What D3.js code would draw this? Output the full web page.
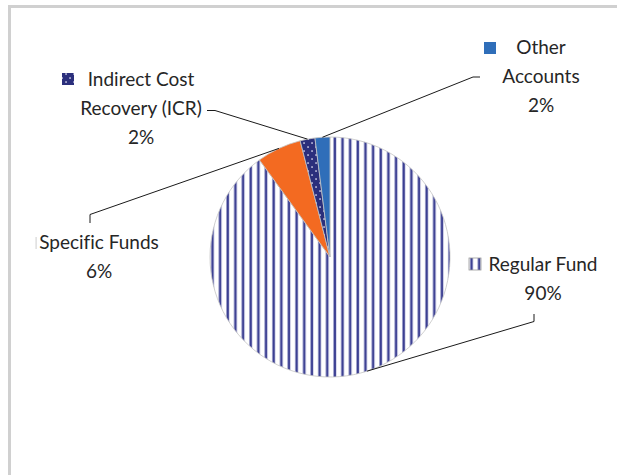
<!DOCTYPE html>
<html>
<head>
<meta charset="utf-8">
<script src="https://cdn.jsdelivr.net/npm/d3@7"></script>
<style>
  html, body { margin: 0; padding: 0; background: #ffffff; }
  svg { display: block; }
  text { font-family: Lato, "Open Sans", sans-serif; fill: #262626; font-variant-ligatures: none; }
</style>
</head>
<body>
<svg id="chart" width="617" height="475"></svg>
<script>
// Funding sources, share of total
const categories = ["Regular Fund", "Specific Funds", "Indirect Cost Recovery (ICR)", "Other Accounts"];
const values = [90, 6, 2, 2];
const labelLines = [["Regular Fund"], ["Specific Funds"], ["Indirect Cost", "Recovery (ICR)"], ["Other", "Accounts"]];

const W = 617, H = 475;
const svg = d3.select("#chart");

// frame lines
svg.append("line").attr("x1", 9).attr("x2", W).attr("y1", 6.5).attr("y2", 6.5)
  .attr("stroke", "#d0d0d0").attr("stroke-width", 3);
svg.append("line").attr("x1", 9.5).attr("x2", 9.5).attr("y1", 5).attr("y2", H)
  .attr("stroke", "#d0d0d0").attr("stroke-width", 3);

// fill patterns
const defs = svg.append("defs");
const stripe = defs.append("pattern").attr("id", "stripes")
  .attr("patternUnits", "userSpaceOnUse").attr("width", 7.65).attr("height", 10).attr("x", 1.2);
stripe.append("rect").attr("width", 7.65).attr("height", 10).attr("fill", "#ffffff");
stripe.append("rect").attr("x", 2.1).attr("width", 3.2).attr("height", 10).attr("fill", "#b8badc");
stripe.append("rect").attr("x", 2.6).attr("width", 2.1).attr("height", 10).attr("fill", "#3a3e91");

const dots = defs.append("pattern").attr("id", "dots")
  .attr("patternUnits", "userSpaceOnUse").attr("width", 8).attr("height", 8);
dots.append("rect").attr("width", 8).attr("height", 8).attr("fill", "#2b2f7c");
dots.append("rect").attr("x", 1.3).attr("y", 1.3).attr("width", 1.5).attr("height", 1.5).attr("fill", "#dcdcf0");
dots.append("rect").attr("x", 5.3).attr("y", 5.3).attr("width", 1.5).attr("height", 1.5).attr("fill", "#dcdcf0");

const fills = ["url(#stripes)", "#f36a21", "url(#dots)", "#2f6eb9"];

// pie
const cx = 330, cy = 257, r = 120;
const pie = d3.pie().sort(null).value(d => d);
const arcs = pie(values);
const arc = d3.arc().innerRadius(0).outerRadius(r);
const rim = d3.arc().innerRadius(r).outerRadius(r);

const g = svg.append("g").attr("transform", `translate(${cx},${cy})`);
g.selectAll("path.slice").data(arcs).join("path")
  .attr("class", "slice")
  .attr("d", arc)
  .attr("fill", (d, i) => fills[i])
  .attr("stroke", "#c4c4c4")
  .attr("stroke-width", 0.8);

// label blocks: centre x, first baseline, leader bend, leader end
const layout = [
  { x: 543, y: 271, bend: [534, 321.5], end: [534, 314], key: [469, 258] },
  { x: 99, y: 249, bend: [90, 214.5], end: [90, 223], key: null },
  { x: 141, y: 86, bend: [215, 110.5], end: [207, 110.5], key: [62, 73] },
  { x: 541, y: 54, bend: [473, 77], end: [480, 77], key: [484, 42] }
];
const lineGap = 29;
const total = d3.sum(values);
const pct = d3.format(".0%");

arcs.forEach((d, i) => {
  const L = layout[i];
  const [px, py] = rim.centroid(d);
  svg.append("polyline")
    .attr("points", [[cx + px, cy + py], L.bend, L.end].map(p => p.join(",")).join(" "))
    .attr("fill", "none").attr("stroke", "#1a1a1a").attr("stroke-width", 1);

  const lines = labelLines[i].concat([pct(values[i] / total)]);
  const t = svg.append("text").attr("text-anchor", "middle").attr("font-size", 19);
  lines.forEach((s, k) => {
    t.append("tspan").attr("x", L.x).attr("y", L.y + k * lineGap).text(s);
  });

  if (L.key) {
    svg.append("rect").attr("x", L.key[0]).attr("y", L.key[1])
      .attr("width", 12).attr("height", 12)
      .attr("fill", fills[i])
      .attr("stroke", i === 0 ? "#9a9a9a" : "none").attr("stroke-width", 0.8);
  }
});

// faint key remnant beside the Specific Funds label
svg.append("rect").attr("x", 35.5).attr("y", 237).attr("width", 1.2).attr("height", 12).attr("fill", "#d6d6d6");
</script>
</body>
</html>
